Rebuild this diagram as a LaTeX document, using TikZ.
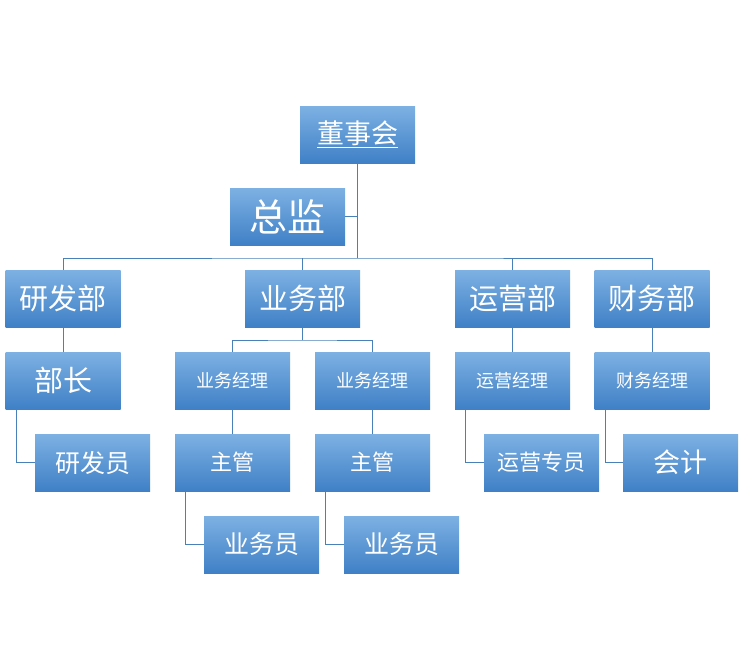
\documentclass[tikz,border=0pt]{standalone}
\usepackage{fontspec}
\newfontfamily\cjk{Noto Sans CJK SC}
\usetikzlibrary{positioning}
\definecolor{boxtop}{HTML}{7DB1E3}
\definecolor{boxbot}{HTML}{3F80C6}
\definecolor{linec}{HTML}{4A80B8}
\tikzset{
  orgbox/.style={rectangle, top color=boxtop, bottom color=boxbot, draw=none,
    minimum width=115pt, minimum height=57pt, text=white, inner sep=0pt},
  link/.style={draw=linec, line width=0.8pt}
}
\begin{document}
\begin{tikzpicture}[x=1pt, y=-1pt, font=\cjk]
    \useasboundingbox (0,0) rectangle (743,659);

    % Top
    \node[orgbox, font=\cjk\fontsize{27}{27}\selectfont] (board) at (357.5,134.5) {\underline{董事会}};
    \node[orgbox, font=\cjk\fontsize{38}{38}\selectfont] (director) at (287.5,216.5) {总监};

    % Departments
    \node[orgbox, font=\cjk\fontsize{29}{29}\selectfont] (rd) at (63,298.5) {研发部};
    \node[orgbox, font=\cjk\fontsize{29}{29}\selectfont] (biz) at (302.5,298.5) {业务部};
    \node[orgbox, font=\cjk\fontsize{29}{29}\selectfont] (ops) at (512.5,298.5) {运营部};
    \node[orgbox, font=\cjk\fontsize{29}{29}\selectfont] (fin) at (652,298.5) {财务部};

    % Managers
    \node[orgbox, font=\cjk\fontsize{29}{29}\selectfont] (rdhead) at (63,380.5) {部长};
    \node[orgbox, font=\cjk\fontsize{18}{18}\selectfont] (bizmgra) at (232.5,380.5) {业务经理};
    \node[orgbox, font=\cjk\fontsize{18}{18}\selectfont] (bizmgrb) at (372.5,380.5) {业务经理};
    \node[orgbox, font=\cjk\fontsize{18}{18}\selectfont] (opsmgr) at (512.5,380.5) {运营经理};
    \node[orgbox, font=\cjk\fontsize{18}{18}\selectfont] (finmgr) at (652,380.5) {财务经理};

    % Staff
    \node[orgbox, font=\cjk\fontsize{25}{25}\selectfont] (rdstaff) at (92.5,462.5) {研发员};
    \node[orgbox, font=\cjk\fontsize{22}{22}\selectfont] (supa) at (232.5,462.5) {主管};
    \node[orgbox, font=\cjk\fontsize{22}{22}\selectfont] (supb) at (372.5,462.5) {主管};
    \node[orgbox, font=\cjk\fontsize{22}{22}\selectfont] (opsstaff) at (541.5,462.5) {运营专员};
    \node[orgbox, font=\cjk\fontsize{27}{27}\selectfont] (acct) at (680.5,462.5) {会计};
    \node[orgbox, font=\cjk\fontsize{25}{25}\selectfont] (clerka) at (261.5,544.5) {业务员};
    \node[orgbox, font=\cjk\fontsize{25}{25}\selectfont] (clerkb) at (401.5,544.5) {业务员};

    % Connectors
    \coordinate (hub) at (357.5,258);
    \draw[link] (board.south) -- (hub);
    \draw[link] (director.east) -- (director.east -| hub);
    \draw[link] (rd.north) |- (hub) -| (fin.north);
    \draw[link] (biz.north) -- (biz.north |- hub);
    \draw[link] (ops.north) -- (ops.north |- hub);

    \draw[link] (rd) -- (rdhead);
    \draw[link] (ops) -- (opsmgr);
    \draw[link] (fin) -- (finmgr);
    \coordinate (bizhub) at (302.5,340);
    \draw[link] (biz.south) -- (bizhub);
    \draw[link] (bizmgra.north) |- (bizhub) -| (bizmgrb.north);
    \draw[link] (bizmgra) -- (supa);
    \draw[link] (bizmgrb) -- (supb);

    \draw[link] ([xshift=11pt]rdhead.south west) |- (rdstaff.west);
    \draw[link] ([xshift=11pt]supa.south west) |- (clerka.west);
    \draw[link] ([xshift=11pt]supb.south west) |- (clerkb.west);
    \draw[link] ([xshift=11pt]opsmgr.south west) |- (opsstaff.west);
    \draw[link] ([xshift=11pt]finmgr.south west) |- (acct.west);
\end{tikzpicture}
\end{document}
